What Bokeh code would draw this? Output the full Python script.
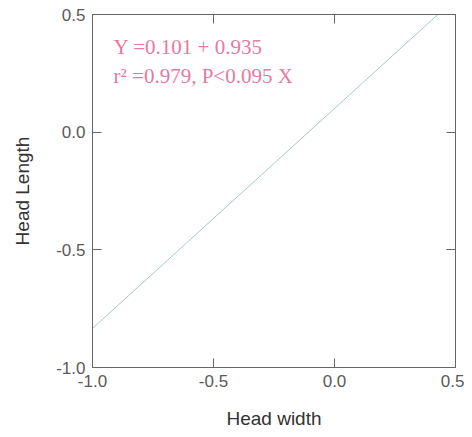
from bokeh.plotting import figure
from bokeh.models import Range1d, FixedTicker, NumeralTickFormatter, LinearAxis, Label
from bokeh.embed import file_html
from bokeh.resources import INLINE

# Data
line_x = [-1.0, 0.427]
line_y = [-0.834, 0.5]
tick_values = [-1.0, -0.5, 0.0, 0.5]
eq_line1 = "Y =0.101 + 0.935"
eq_line2 = "r\u00b2 =0.979, P<0.095 X"
x_title = "Head width"
y_title = "Head Length"

p = figure(width=464, height=429, output_backend="svg", toolbar_location=None,
           x_range=Range1d(-1.0, 0.5), y_range=Range1d(-1.0, 0.5),
           frame_width=363, frame_height=353,
           min_border_left=92, min_border_top=14, min_border_right=9, min_border_bottom=62)
p.grid.visible = False
p.outline_line_color = "#777777"
p.background_fill_color = "white"
p.border_fill_color = "white"

p.line(line_x, line_y, line_color="#a9c8cf", line_width=1)

for ax in [p.xaxis[0], p.yaxis[0]]:
    ax.ticker = FixedTicker(ticks=tick_values)
    ax.formatter = NumeralTickFormatter(format="0.0")
    ax.major_tick_in = 9
    ax.major_tick_out = 0
    ax.minor_tick_line_color = None
    ax.axis_line_color = "#666666"
    ax.major_tick_line_color = "#666666"
    ax.major_label_text_font = "Liberation Sans"
    ax.major_label_text_font_size = "17px"
    ax.major_label_text_color = "#5a5a5a"
    ax.axis_label_text_font = "Liberation Sans"
    ax.axis_label_text_font_size = "19px"
    ax.axis_label_text_font_style = "normal"
    ax.axis_label_text_color = "#333333"

p.xaxis[0].axis_label = x_title
p.yaxis[0].axis_label = y_title
p.xaxis[0].major_label_standoff = 7
p.xaxis[0].axis_label_standoff = 18
p.yaxis[0].major_label_standoff = 7
p.yaxis[0].axis_label_standoff = 20

for loc in ["above", "right"]:
    ax = LinearAxis(ticker=FixedTicker(ticks=tick_values), major_label_text_font_size="0px",
                    major_tick_in=9, major_tick_out=0, minor_tick_line_color=None,
                    axis_line_color="#666666", major_tick_line_color="#666666",
                    major_label_text_color=None)
    ax.major_label_standoff = 0
    p.add_layout(ax, loc)

for txt, yy in [(eq_line1, 0.364), (eq_line2, 0.237)]:
    p.add_layout(Label(x=-0.913, y=yy, text=txt, text_font="Liberation Serif",
                       text_font_size="21px", text_color="#e8799f",
                       text_baseline="middle", text_align="left"))

open("out.html", "w").write(file_html(p, INLINE))
